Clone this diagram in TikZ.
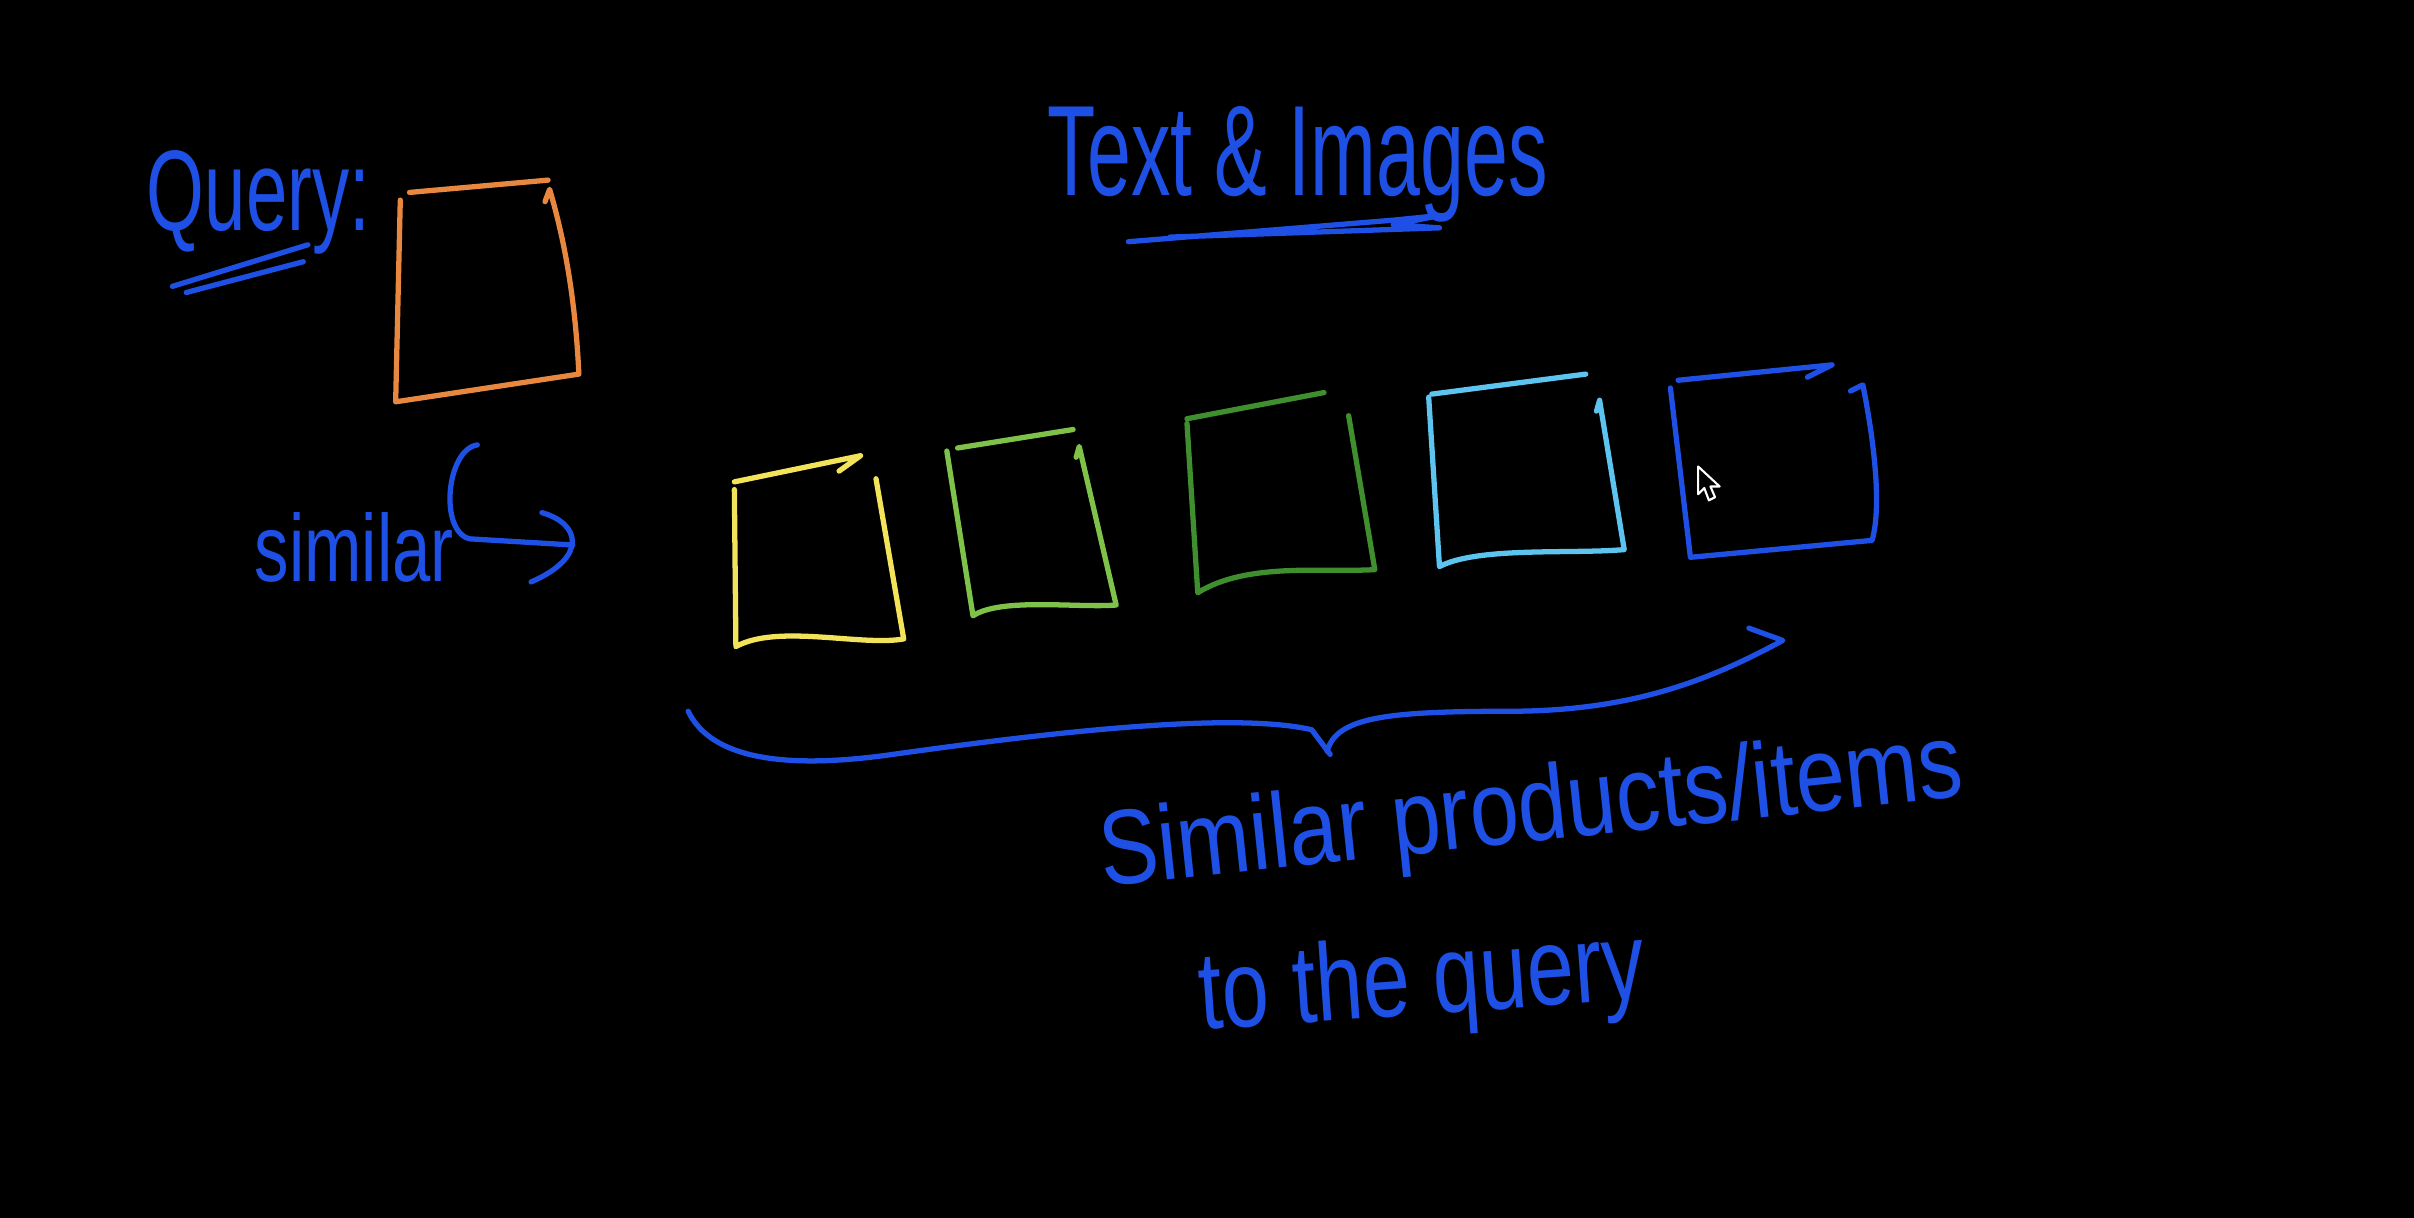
\documentclass[tikz,border=0pt]{standalone}
\usepackage{graphicx}
\usepackage{fontspec}
\setmainfont{Liberation Sans}
\definecolor{penblue}{HTML}{1F50E6}
\definecolor{penorange}{HTML}{E8873F}
\definecolor{penyellow}{HTML}{F2E35A}
\definecolor{penlgreen}{HTML}{7EC24A}
\definecolor{pendgreen}{HTML}{3F8F2E}
\definecolor{penlblue}{HTML}{5CC4EE}
\begin{document}
\begin{tikzpicture}[x=0.015395cm,y=-0.015395cm,
  pen/.style={line width=1.5pt,line cap=round,line join=round},
  hand/.style={anchor=base west,inner sep=0pt,text=penblue}]
\path[fill=black,use as bounding box] (0,0) rectangle (1568,791);

% Query label
\node[hand] (qlabel) at (95,150) {\resizebox{2.23cm}{0.80cm}{Query:}};
\draw[pen,penblue] (112,186) -- (200,159);
\draw[pen,penblue] (121,190) -- (197,170);

% query box (orange)
\draw[pen,penorange] (260,130) -- (257,261) -- (376,243) .. controls (374,200) and (368,160) .. (357,123) -- (354,131);
\draw[pen,penorange] (266,125) -- (356,117);

% title
\node[hand] (title) at (680,127) {\resizebox{5.0cm}{0.89cm}{Text \& Images}};
\draw[pen,penblue] (733,157) -- (905,143) -- (935,140) -- (905,146) -- (935,148) -- (760,154);

% similar + arrow
\node[hand] (sim) at (165,378) {\resizebox{1.99cm}{0.69cm}{similar}};
\draw[pen,penblue] (310,289) .. controls (290,292) and (285,345) .. (305,350) -- (372,354);
\draw[pen,penblue] (352,333) .. controls (377,340) and (382,362) .. (345,378);

% result boxes
\draw[pen,penyellow] (477,318) -- (478,420) .. controls (505,405) and (560,420) .. (587,415) -- (569,311);
\draw[pen,penyellow] (477,313) -- (559,296) -- (545,306);

\draw[pen,penlgreen] (615,293) -- (632,400) .. controls (650,388) and (700,395) .. (725,393) -- (701,290) -- (699,297);
\draw[pen,penlgreen] (622,291) -- (697,279);

\draw[pen,pendgreen] (771,275) -- (778,385) .. controls (810,365) and (860,372) .. (893,370) -- (876,270);
\draw[pen,pendgreen] (771,272) -- (860,255);

\draw[pen,penlblue] (928,258) -- (935,368) .. controls (960,355) and (1020,360) .. (1055,357) -- (1039,260) -- (1037,267);
\draw[pen,penlblue] (930,256) -- (1030,243);

\draw[pen,penblue] (1085,252) -- (1098,362) -- (1216,351) .. controls (1222,330) and (1218,290) .. (1210,250) -- (1202,254);
\draw[pen,penblue] (1090,247) -- (1190,237) -- (1174,245);

% cursor
\draw[fill=black,draw=white,line width=0.6pt,line join=round]
  (1103,303) -- (1103,321) -- (1107,317) -- (1110,325) -- (1114,323) -- (1111,316) -- (1117,316) -- cycle;

% brace
\draw[pen,penblue] (447,462) .. controls (462,493) and (510,500) .. (580,490) .. controls (680,476) and (800,462) .. (852,474) -- (864,490);
\draw[pen,penblue] (862,488) .. controls (868,466) and (900,462) .. (980,462) .. controls (1060,462) and (1110,442) .. (1158,416) -- (1136,408);

% bottom texts
\node[hand,rotate=6] (res1) at (716,576) {\resizebox{8.67cm}{0.77cm}{Similar products/items}};
\node[hand,rotate=4] (res2) at (780,669) {\resizebox{4.46cm}{0.80cm}{to the query}};
\end{tikzpicture}
\end{document}
